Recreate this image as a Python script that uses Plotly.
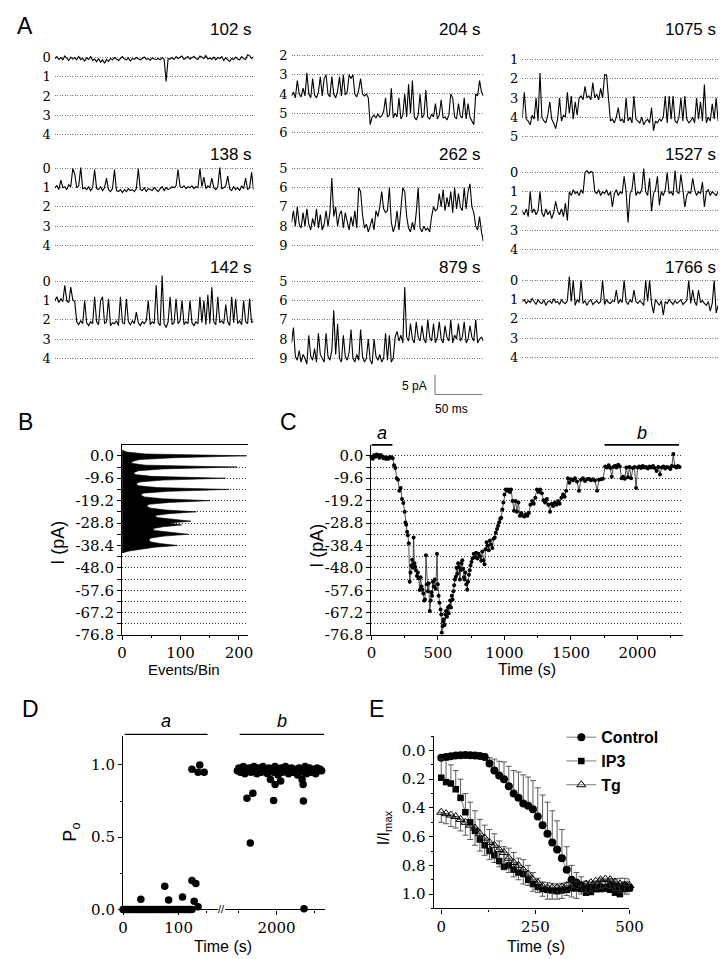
import plotly.graph_objects as go

W, H = 728, 959
SERIF = "DejaVu Serif, serif"
SANS = "Liberation Sans, Arial, sans-serif"

# ---------------- Panel A : single-channel sweeps (values in conductance-level units) ----------------
sweep_ms = 200
tr_102 = [0.05,-0.05,0.1,0.0,0.12,-0.08,0.05,0.15,-0.02,0.08,
          0.0,0.12,-0.05,0.1,0.05,0.18,0.02,0.1,-0.05,0.15,
          0.08,0.22,0.05,0.25,0.12,0.3,0.1,0.2,0.05,0.12,
          0.0,0.1,0.15,0.05,-0.05,0.08,0.12,0.02,0.18,0.05,
          0.1,0.0,0.08,0.12,0.05,-0.03,0.1,0.06,0.14,0.02,
          0.08,0.1,0.05,0.12,0.0,0.1,1.25,0.05,0.08,0.0,
          0.1,-0.05,0.05,0.0,-0.08,0.1,0.02,-0.05,0.08,0.0,
          -0.05,0.05,0.1,-0.08,0.0,0.05,-0.1,0.08,0.02,0.1,
          -0.02,0.12,0.0,0.05,-0.05,0.15,0.02,0.1,0.2,0.05,
          0.1,-0.02,0.08,0.12,-0.05,0.05,0.1,-0.15,-0.1,0.05,
          -0.05]
tr_138 = [1.0,0.9,1.1,0.6,1.0,0.95,1.1,0.85,0.95,0.0,
          0.3,1.0,0.9,-0.05,1.05,1.0,1.1,0.95,1.15,1.0,
          0.05,1.05,1.1,0.95,1.15,1.0,0.5,1.1,1.2,1.05,
          0.05,1.15,1.2,1.1,1.25,1.1,1.2,1.05,1.15,1.1,
          1.2,1.05,0.0,1.1,1.15,1.0,1.2,1.05,1.1,1.15,
          1.0,1.1,1.2,1.05,0.95,1.15,1.0,1.1,1.05,0.95,
          1.0,0.9,0.05,0.95,1.0,0.9,1.05,0.95,1.0,0.9,
          1.05,0.95,1.0,0.0,0.95,0.45,1.05,0.9,1.0,0.5,
          1.0,1.1,0.95,-0.05,1.05,1.0,0.9,0.4,1.05,1.15,
          0.95,1.1,1.0,1.15,0.9,1.05,0.5,1.1,1.0,0.2,
          1.1]
tr_142 = [1.0,0.8,1.1,0.9,1.05,0.2,1.0,1.1,0.3,0.95,
          1.05,2.1,2.25,2.05,2.2,1.0,2.15,2.3,2.1,2.2,
          0.8,2.1,2.25,1.0,0.8,2.2,2.1,0.9,2.3,2.15,
          2.2,2.05,2.3,0.8,2.15,2.2,0.9,2.1,2.25,2.05,
          2.2,1.6,2.15,2.3,2.1,2.2,2.05,1.0,2.25,2.1,
          2.2,0.2,2.15,2.3,-0.3,2.2,2.4,2.1,0.8,2.25,
          2.15,0.9,2.2,2.05,1.0,2.25,2.1,2.2,1.0,2.15,
          2.3,2.1,2.2,0.8,2.15,1.0,2.25,0.7,2.2,0.3,
          2.1,2.25,0.8,2.15,2.05,2.2,1.2,2.1,2.3,0.8,
          2.15,0.9,2.2,2.05,2.25,1.0,2.1,2.2,0.9,2.15,
          2.05]
tr_204 = [4.1,3.9,4.2,3.3,4.0,4.15,3.7,4.1,2.9,4.0,
          4.2,3.2,4.05,4.2,3.9,3.1,4.1,3.2,3.0,4.0,
          4.15,3.1,4.0,4.2,3.85,3.1,4.1,3.0,4.05,3.9,
          3.0,3.2,3.0,4.0,4.15,3.8,3.2,4.0,4.1,4.0,
          4.2,5.6,5.2,5.1,5.25,5.05,5.2,5.15,4.9,4.2,
          5.2,5.1,3.7,5.25,5.0,5.2,4.2,5.3,5.1,4.0,
          5.2,3.5,5.0,3.3,5.2,5.35,5.1,4.0,5.25,5.1,
          3.8,5.2,5.3,5.05,5.2,4.5,5.3,5.1,4.3,5.25,
          5.2,5.35,5.1,4.0,4.2,5.2,5.3,4.5,5.15,5.25,
          4.2,5.3,4.5,5.2,5.4,5.6,4.0,4.1,3.3,3.9,
          4.1]
tr_262 = [7.8,7.2,8.0,7.0,7.9,8.1,7.3,8.0,7.1,7.9,
          8.2,7.6,8.0,7.1,8.1,7.4,8.2,7.9,7.2,8.0,
          7.3,5.5,7.5,7.0,8.0,7.4,7.2,8.1,7.3,7.8,
          8.2,7.5,8.0,7.2,8.1,6.0,6.2,7.4,8.1,7.9,
          8.3,8.0,7.6,8.2,7.2,7.5,7.0,6.2,7.1,7.3,
          7.2,6.0,7.8,8.3,8.0,7.2,8.2,7.1,6.0,6.2,
          7.5,8.1,8.3,7.8,8.2,7.3,6.0,8.1,8.3,8.0,
          8.2,8.1,8.3,7.5,7.0,7.2,7.1,6.3,7.0,6.1,
          7.2,6.5,7.0,6.2,7.3,6.0,7.1,6.3,7.0,7.2,
          6.0,7.1,6.2,5.8,7.0,7.3,8.0,8.2,7.5,8.3,
          8.8]
tr_879 = [8.2,7.4,8.9,9.1,8.6,9.2,8.8,9.0,9.3,7.8,
          8.9,9.1,8.5,9.2,7.7,8.8,9.0,9.2,7.7,8.9,
          9.1,8.6,6.5,8.8,7.2,9.0,9.2,7.8,8.9,9.1,
          8.7,7.5,9.0,9.2,8.8,9.1,7.5,8.9,9.2,9.0,
          8.0,9.1,9.3,8.0,8.9,9.1,8.8,9.2,9.0,7.7,
          9.1,7.8,9.2,9.0,7.9,7.6,8.1,7.8,8.2,5.3,
          7.9,8.1,7.2,8.0,8.2,7.1,7.9,8.1,7.3,8.0,
          8.2,7.0,7.9,8.1,7.2,8.2,7.9,7.1,8.0,8.2,
          7.3,7.9,8.1,7.0,8.2,7.8,8.0,7.2,8.1,7.9,
          7.1,8.2,8.0,7.3,7.9,8.1,7.0,8.2,8.0,7.9,
          8.1]
tr_1075 = [4.0,2.7,4.1,4.2,4.4,3.9,4.1,3.0,4.2,1.7,
           4.0,4.2,4.3,3.9,3.2,4.1,4.3,4.6,4.1,3.0,
           4.2,3.9,4.0,2.7,3.8,2.9,4.1,3.2,3.9,3.0,
           2.9,3.1,2.4,3.0,2.9,3.1,2.2,3.0,2.8,3.1,
           2.5,3.0,1.8,1.8,3.0,4.2,4.1,4.3,4.0,3.5,
           4.2,4.1,4.3,3.0,4.2,4.0,4.3,2.9,4.1,4.2,
           4.3,4.0,4.4,4.2,4.1,4.3,3.5,4.7,4.2,4.3,
           4.1,4.2,4.0,2.9,4.3,2.9,4.1,2.9,4.2,4.3,
           4.0,3.0,4.2,2.9,4.1,4.3,4.2,4.0,4.3,3.0,
           4.1,3.2,4.2,2.3,4.3,4.0,4.2,3.3,4.1,3.0,
           4.2]
tr_1527 = [2.0,2.2,1.9,2.3,1.0,2.1,1.9,2.2,2.0,1.0,
           2.1,2.3,1.9,2.2,2.0,2.4,2.1,1.5,2.0,2.2,
           1.9,2.3,1.6,2.5,1.0,1.2,0.9,1.1,1.0,1.2,
           0.9,1.1,0.0,-0.1,0.05,-0.05,0.0,1.0,1.1,0.9,
           1.2,1.0,1.1,0.9,1.2,1.0,1.8,1.1,0.9,1.2,
           1.0,1.1,0.2,1.0,2.6,1.1,0.9,0.0,1.2,1.0,
           1.1,0.9,-0.2,1.0,1.2,0.3,2.0,1.1,0.9,0.2,
           1.7,1.0,1.2,0.9,0.0,1.1,1.0,1.2,-0.1,1.0,
           1.1,0.1,0.9,1.8,1.2,1.0,1.1,0.3,0.9,1.2,
           1.0,1.1,0.5,1.8,1.0,0.9,1.2,1.0,1.1,1.2,
           1.0]
tr_1766 = [1.1,1.0,1.2,1.05,1.15,0.95,1.1,1.25,1.0,1.15,
           1.2,1.0,1.3,1.1,1.05,1.2,0.95,1.15,1.1,1.25,
           1.0,1.15,1.2,1.05,-0.2,1.1,0.0,1.3,1.0,1.15,
           0.0,1.2,1.05,1.3,1.1,1.0,1.25,1.15,1.05,1.2,
           1.1,0.0,1.25,1.0,1.15,1.2,1.05,1.1,0.5,1.2,
           1.0,1.15,0.0,1.1,1.25,1.0,1.15,0.5,1.1,1.2,
           1.05,1.15,1.3,0.0,1.1,0.0,1.2,1.7,1.0,1.15,
           1.3,1.05,1.8,1.1,1.2,1.0,1.15,1.25,1.05,1.2,
           1.1,1.0,1.25,1.15,1.05,0.0,1.2,0.5,1.1,1.3,
           0.5,1.15,1.05,1.2,1.3,1.1,1.6,1.2,0.0,1.7,
           1.3]
sweep_titles = ["102 s", "138 s", "142 s", "204 s", "262 s", "879 s", "1075 s", "1527 s", "1766 s"]
sweep_top_level = [0, 0, 0, 2, 5, 5, 1, 0, 0]
scalebar_pA = 5
scalebar_ms = 50
pA_per_level = 4.8

# ---------------- Panel B : all-points histogram ----------------
hist_current = [2.4,1.6,0.8,0.0,-0.8,-1.6,-2.4,-3.2,-4.0,-4.8,
                -5.6,-6.4,-7.2,-8.0,-8.8,-9.6,-10.4,-11.2,-12.0,-12.8,
                -13.6,-14.4,-15.2,-16.0,-16.8,-17.6,-18.4,-19.2,-20.0,-20.8,
                -21.6,-22.4,-23.2,-24.0,-24.8,-25.6,-26.4,-27.2,-28.0,-28.8,
                -29.6,-30.4,-31.2,-32.0,-32.8,-33.6,-34.4,-35.2,-36.0,-36.8,
                -37.6,-38.4,-39.2,-40.0,-40.8,-41.6]
hist_counts = [0,8,40,213,90,30,18,16,40,197,
               70,28,20,22,50,177,70,30,24,28,
               60,183,80,36,32,38,70,150,80,46,
               42,48,75,127,80,56,60,90,118,80,
               102,70,52,56,80,113,72,50,46,48,
               65,95,55,30,12,0]
current_ticks = [0.0,-9.6,-19.2,-28.8,-38.4,-48.0,-57.6,-67.2,-76.8]
level_lines = [0.0,-4.8,-9.6,-14.4,-19.2,-24.0,-28.8,-33.6,-38.4,-43.2,-48.0,-52.8,-57.6,-62.4,-67.2,-72.0,-76.8]

# ---------------- Panel C : current vs time ----------------
c_time = [0,10,20,30,40,50,60,70,80,90,
          100,110,120,130,140,150,160,170,180,190,
          200,210,220,230,240,250,256,262,268,274,
          281,288,294,300,306,312,317,323,329,335,
          342,349,356,363,370,377,383,390,397,403,
          410,417,424,431,439,446,452,456,462,468,
          476,484,493,499,505,512,520,525,529,535,
          540,544,550,556,561,568,575,581,586,592,
          598,604,610,616,622,628,634,640,646,652,
          659,665,671,677,683,689,695,700,706,713,
          720,727,733,739,745,752,760,769,778,787,
          796,805,815,825,833,842,850,858,866,874,
          882,891,900,909,918,927,935,944,952,960,
          968,976,984,992,1000,1010,1020,1030,1040,1050,
          1061,1072,1083,1094,1105,1116,1127,1138,1149,1160,
          1172,1183,1195,1208,1220,1232,1244,1256,1268,1281,
          1293,1305,1318,1330,1342,1354,1366,1379,1391,1403,
          1415,1428,1440,1452,1464,1476,1488,1500,1515,1530,
          1545,1560,1575,1590,1605,1620,1635,1650,1665,1680,
          1696,1710,1725,1740,1757,1770,1783,1796,1806,1818,
          1830,1842,1855,1867,1880,1892,1904,1916,1928,1940,
          1952,1965,1977,1989,2001,2013,2026,2039,2052,2065,
          2078,2091,2104,2117,2130,2143,2156,2169,2182,2195,
          2208,2221,2234,2247,2258,2269,2280,2292,2304,2316]
c_current = [-0.5,-1.2,0.3,-0.4,0.6,0.2,-0.8,0.4,-0.2,-1.0,
             -0.6,-1.4,-0.8,-1.2,-0.5,-0.7,-1.0,-4.0,-5.2,-9.6,
             -10.2,-15.0,-13.8,-18.5,-20.2,-24.0,-28.6,-29.5,-32.5,-34.0,
             -37.5,-54.0,-50.0,-47.0,-44.5,-48.0,-35.0,-46.0,-47.5,-49.0,
             -51.5,-50.0,-52.5,-57.5,-52.0,-56.0,-57.4,-59.0,-62.0,-61.6,
             -42.6,-55.0,-58.0,-54.6,-66.5,-62.0,-58.5,-60.0,-54.0,-56.0,
             -53.0,-57.0,-42.0,-55.0,-60.0,-63.0,-65.8,-68.0,-75.7,-73.0,
             -71.0,-70.0,-72.5,-68.0,-66.5,-69.0,-65.0,-67.5,-64.4,-62.0,
             -65.0,-60.0,-61.6,-58.0,-55.5,-53.0,-51.8,-48.0,-50.5,-46.0,
             -47.6,-53.0,-49.0,-46.0,-44.7,-48.5,-52.0,-53.0,-50.0,-55.0,
             -57.4,-54.0,-51.0,-49.0,-47.0,-45.5,-44.0,-42.0,-43.5,-41.5,
             -44.0,-42.0,-43.0,-45.0,-41.0,-44.7,-46.5,-40.0,-37.0,-38.5,
             -40.5,-36.3,-38.0,-39.5,-35.5,-35.0,-33.0,-31.4,-30.0,-28.5,
             -27.0,-26.5,-23.0,-20.0,-16.6,-14.4,-15.0,-14.4,-15.5,-14.4,
             -19.4,-23.5,-19.4,-24.0,-20.0,-25.7,-24.5,-25.7,-26.0,-25.0,
             -25.7,-24.5,-21.0,-19.4,-20.5,-18.0,-14.4,-15.5,-14.4,-16.0,
             -19.0,-20.0,-18.5,-21.0,-24.0,-20.5,-21.5,-20.0,-21.0,-19.4,
             -20.5,-18.0,-16.6,-17.5,-15.0,-9.6,-11.5,-10.0,-10.5,-9.6,
             -11.0,-15.0,-10.2,-9.6,-10.8,-10.0,-9.8,-10.5,-10.0,-10.6,
             -15.0,-10.2,-10.0,-9.8,-4.6,-5.0,-4.0,-5.2,-9.0,-4.8,
             -4.2,-5.0,-3.8,-4.6,-9.6,-9.0,-9.8,-5.0,-9.2,-4.8,
             -9.6,-5.2,-4.8,-13.8,-5.0,-4.6,-5.2,-4.4,-5.0,-4.8,
             -5.4,-4.6,-5.0,-4.4,-5.2,-6.5,-4.8,-8.0,-5.0,-4.6,
             -5.4,-4.8,-5.0,-5.6,-4.4,0.8,-4.6,-5.0,-4.4,-4.8]
period_a = [0, 158]
period_b = [1752, 2312]

# ---------------- Panel D : open probability ----------------
d_a_time = [0,4,8,12,16,20,24,28,32,36,40,44,48,52,56,60,64,68,72,76,80,84,88,92,96,100,104,108,112,116,120,124,
            32,75,82,107,124,131,128,135,124,138,135,146]
d_a_po = [0,0,0,0,0,0,0,0,0,0,0,0,0,0,0,0,0,0,0,0,0,0,0,0,0,0,0,0,0,0,0,0,
          0.07,0.16,0.065,0.087,0.2,0.18,0.057,0.018,0.97,1.0,0.95,0.95]
d_b_time = [1740,1750,1760,1770,1780,1790,1800,1810,1820,1830,
            1840,1850,1860,1870,1880,1890,1900,1910,1920,1930,
            1940,1950,1960,1970,1980,1990,2000,2010,2020,2030,
            2040,2050,2060,2070,2080,2090,2100,2110,2120,2130,
            2140,2150,2160,2170,2180,2190,2200,2210,2220,2230,
            2240,2250,2260,2270,2280,2290,2300,
            1804,1843,1826,1981,1991,2028,2179,2177,2183,1960,2170]
d_b_po = [0.96,0.98,0.95,0.97,0.99,0.94,0.97,0.96,0.98,0.95,
          0.97,0.99,0.96,0.94,0.98,0.97,0.95,0.99,0.96,0.97,
          0.94,0.98,0.96,0.97,0.95,0.99,0.96,0.93,0.97,0.98,
          0.95,0.96,0.99,0.97,0.94,0.96,0.98,0.95,0.97,0.96,
          0.93,0.98,0.96,0.97,0.95,0.99,0.94,0.96,0.98,0.95,
          0.97,0.96,0.94,0.98,0.96,0.97,0.96,
          0.77,0.805,0.46,0.755,0.865,0.89,0.75,0.865,0.005,0.90,0.90]

# ---------------- Panel E : normalised current ----------------
e_time = [0,12.8,25.6,38.5,51.3,64.1,76.9,89.7,102.6,115.4,
          128.2,141.0,153.8,166.7,179.5,192.3,205.1,217.9,230.8,243.6,
          256.4,269.2,282.1,294.9,307.7,320.5,333.3,346.2,359.0,371.8,
          384.6,397.4,410.3,423.1,435.9,448.7,461.5,474.4,487.2,500.0]
e_control = [0.05,0.045,0.04,0.035,0.033,0.032,0.033,0.035,0.038,0.045,
             0.09,0.14,0.175,0.2,0.25,0.30,0.33,0.37,0.385,0.41,
             0.46,0.52,0.58,0.64,0.69,0.75,0.83,0.90,0.92,0.94,
             0.96,0.965,0.96,0.95,0.955,0.94,0.945,0.95,0.94,0.955]
e_control_err = [0.01,0.01,0.01,0.01,0.01,0.01,0.01,0.01,0.01,0.02,
                 0.04,0.08,0.1,0.12,0.14,0.16,0.18,0.2,0.2,0.2,
                 0.2,0.21,0.22,0.22,0.2,0.2,0.16,0.1,0.07,0.06,
                 0.05,0.05,0.05,0.06,0.05,0.05,0.05,0.06,0.05,0.06]
e_ip3 = [0.19,0.22,0.23,0.27,0.33,0.43,0.50,0.56,0.62,0.66,
         0.70,0.73,0.77,0.81,0.80,0.83,0.85,0.86,0.90,0.93,
         0.95,0.965,0.97,0.975,0.98,0.975,0.97,0.96,0.96,0.965,
         0.99,0.985,0.965,0.965,0.96,0.97,0.99,1.0,0.965,0.96]
e_ip3_err = [0.13,0.15,0.13,0.13,0.13,0.13,0.14,0.14,0.14,0.14,
             0.15,0.15,0.14,0.14,0.12,0.12,0.1,0.1,0.1,0.08,
             0.06,0.05,0.05,0.05,0.05,0.05,0.05,0.05,0.05,0.05,
             0.05,0.05,0.05,0.05,0.05,0.05,0.05,0.05,0.05,0.05]
e_tg = [0.43,0.44,0.45,0.46,0.48,0.50,0.52,0.54,0.58,0.61,
        0.64,0.66,0.69,0.71,0.75,0.78,0.80,0.83,0.86,0.90,
        0.92,0.945,0.955,0.955,0.955,0.95,0.94,0.95,0.96,0.94,
        0.93,0.92,0.91,0.90,0.895,0.90,0.915,0.93,0.94,0.94]
e_tg_err = [0.07,0.07,0.08,0.08,0.08,0.09,0.1,0.12,0.12,0.12,
            0.12,0.12,0.12,0.12,0.1,0.1,0.1,0.1,0.08,0.08,
            0.07,0.07,0.08,0.08,0.08,0.08,0.07,0.07,0.07,0.06,
            0.06,0.06,0.06,0.06,0.06,0.06,0.06,0.06,0.06,0.06]

# ============================ figure building ============================
def fx(px):
    return px / W

def fy(py):
    return 1 - py / H

fig = go.Figure()
layout = {}
annotations = []
shapes = []
counter = [0]

def new_axes(xpx, ypx, xkw, ykw):
    counter[0] += 1
    n = counter[0]
    sfx = "" if n == 1 else str(n)
    layout["xaxis" + sfx] = dict(domain=[fx(xpx[0]), fx(xpx[1])], anchor="y" + sfx, **xkw)
    layout["yaxis" + sfx] = dict(domain=[fy(ypx[1]), fy(ypx[0])], anchor="x" + sfx, **ykw)
    return "x" + sfx, "y" + sfx

def text(s, x, y, size=14, family=SANS, xanchor="center", yanchor="middle", angle=0, color="black"):
    annotations.append(dict(text=s, x=fx(x), y=fy(y), xref="paper", yref="paper", showarrow=False,
                            xanchor=xanchor, yanchor=yanchor, textangle=angle,
                            font=dict(family=family, size=size, color=color)))

TICKFONT = dict(family=SERIF, size=15, color="black")

# ---------- Panel A ----------
col_px = [(43, 247), (286, 483), (523, 724)]
top_px = [[50, 162, 276], [48, 162, 276], [52, 166, 275]]
title_px = [22, 148, 262]
sp = 19.4
traces_A = [tr_102, tr_138, tr_142, tr_204, tr_262, tr_879, tr_1075, tr_1527, tr_1766]
for k, vals in enumerate(traces_A):
    c, r = divmod(k, 3)
    lv0 = sweep_top_level[k]
    tp = top_px[c][r]
    xr, yr = new_axes(
        col_px[c], (tp - 0.8 * sp, tp + 4.8 * sp),
        dict(range=[0, sweep_ms], visible=False, fixedrange=True),
        dict(range=[lv0 + 4.8, lv0 - 0.8], tickmode="array",
             tickvals=[lv0 + i for i in range(5)], ticktext=[str(lv0 + i) for i in range(5)],
             showgrid=True, gridcolor="#7a7a7a", gridwidth=1, griddash="1px,1.5px",
             zeroline=False, showline=False, ticks="", ticklabelstandoff=3,
             tickfont=dict(family=SERIF, size=13, color="black")))
    n = len(vals)
    t = [sweep_ms * i / (n - 1) for i in range(n)]
    fig.add_trace(go.Scatter(x=t, y=vals, xaxis=xr, yaxis=yr, mode="lines",
                             line=dict(color="black", width=1.1), showlegend=False, hoverinfo="skip"))
    text(sweep_titles[k], col_px[c][1], title_px[r], size=17, xanchor="right")

# scale bar
xr, yr = new_axes((433, 433 + scalebar_ms * 0.98), (370, 370 + scalebar_pA / pA_per_level * sp),
                  dict(range=[0, scalebar_ms], visible=False), dict(range=[0, scalebar_pA], visible=False))
fig.add_trace(go.Scatter(x=[0, 0, scalebar_ms], y=[scalebar_pA, 0, 0], xaxis=xr, yaxis=yr, mode="lines",
                         line=dict(color="black", width=1.2), showlegend=False, hoverinfo="skip"))
text("5 pA", 412, 382, size=12)
text("50 ms", 450, 405, size=12)

# ---------- Panel B ----------
cur_ticktext = [f"{v:.1f}" if v in current_ticks else " " for v in level_lines]
yB = dict(range=[-76.8, 4.7], tickmode="array", tickvals=level_lines, ticktext=cur_ticktext,
          showgrid=True, gridcolor="#333", gridwidth=1, griddash="1px,2px", zeroline=False,
          showline=True, linecolor="black", linewidth=1.2, ticks="outside", ticklen=4,
          tickcolor="black", tickfont=TICKFONT)
xr, yr = new_axes((112, 241), (441, 633),
                  dict(range=[0, 215], tickmode="linear", tick0=0, dtick=100, showgrid=False, zeroline=False,
                       showline=True, mirror=True, linecolor="black", linewidth=1.2, ticks="outside",
                       ticklen=4, tickcolor="black", tickfont=TICKFONT,
                       minor=dict(dtick=50, ticks="outside", ticklen=2, tickcolor="black")),
                  yB)
fig.add_trace(go.Scatter(x=hist_counts, y=hist_current, xaxis=xr, yaxis=yr, mode="lines", fill="tozerox",
                         fillcolor="black", line=dict(color="black", width=0.6), showlegend=False, hoverinfo="skip"))
text("I (pA)", 46, 540, size=18, angle=-90)
text("Events/Bin", 176, 668, size=15)
text("B", 13, 418, size=23)

# ---------- Panel C ----------
xr, yr = new_axes((368, 688), (441, 633),
                  dict(range=[0, 2342], tickmode="linear", tick0=0, dtick=500, showgrid=False, zeroline=False,
                       showline=True, linecolor="black", linewidth=1.2, ticks="outside", ticklen=4,
                       tickcolor="black", tickfont=TICKFONT,
                       minor=dict(dtick=250, ticks="outside", ticklen=2, tickcolor="black")),
                  dict(yB))
fig.add_trace(go.Scatter(x=c_time, y=c_current, xaxis=xr, yaxis=yr, mode="lines+markers",
                         line=dict(color="#222", width=0.8), marker=dict(size=4, color="black"),
                         showlegend=False, hoverinfo="skip", cliponaxis=False))
for rng, lab in ((period_a, "a"), (period_b, "b")):
    shapes.append(dict(type="line", xref=xr, yref=yr + " domain", x0=rng[0], x1=rng[1], y0=1.0, y1=1.0,
                       line=dict(color="black", width=1.6)))
    annotations.append(dict(text="<i>" + lab + "</i>", x=(rng[0] + rng[1]) / 2, y=1.0, xref=xr, yref=yr + " domain",
                            yanchor="bottom", showarrow=False, yshift=0,
                            font=dict(family=SANS, size=18, color="black")))
text("I (pA)", 312, 543, size=18, angle=-90)
text("Time (s)", 528, 668, size=16)
text("C", 283, 418, size=23)

# ---------- Panel D ----------
axD = dict(showgrid=False, zeroline=False, showline=True, linecolor="black", linewidth=1.2, ticks="outside",
           ticklen=4, tickcolor="black", tickfont=TICKFONT)
xr, yr = new_axes((113, 210), (735, 910),
                  dict(range=[0, 170], tickmode="linear", tick0=0, dtick=100,
                       minor=dict(dtick=50, ticks="outside", ticklen=2, tickcolor="black"), **axD),
                  dict(range=[0, 1.2], tickmode="linear", tick0=0, dtick=0.5, tickformat=".1f",
                       minor=dict(dtick=0.25, ticks="outside", ticklen=2, tickcolor="black"), **axD))
fig.add_trace(go.Scatter(x=d_a_time, y=d_a_po, xaxis=xr, yaxis=yr, mode="markers",
                         marker=dict(size=7.5, color="black"), cliponaxis=False, showlegend=False, hoverinfo="skip"))
shapes.append(dict(type="line", xref=xr, yref=yr + " domain", x0=3, x1=152, y0=1.01, y1=1.01,
                   line=dict(color="black", width=1.4)))
annotations.append(dict(text="<i>a</i>", x=(3 + 152) / 2, y=1.02, xref=xr, yref=yr + " domain", yanchor="bottom",
                        showarrow=False, font=dict(family=SANS, size=18, color="black")))
xr2, yr2 = new_axes((218, 320), (735, 910),
                    dict(range=[1660, 2320], tickmode="array", tickvals=[2000],
                         minor=dict(tickvals=[1750, 2250], ticks="outside", ticklen=2, tickcolor="black"), **axD),
                    dict(range=[0, 1.2], visible=False))
fig.add_trace(go.Scatter(x=d_b_time, y=d_b_po, xaxis=xr2, yaxis=yr2, mode="markers",
                         marker=dict(size=7.5, color="black"), cliponaxis=False, showlegend=False, hoverinfo="skip"))
shapes.append(dict(type="line", xref=xr2, yref=yr2 + " domain", x0=1755, x1=2316, y0=1.01, y1=1.01,
                   line=dict(color="black", width=1.4)))
annotations.append(dict(text="<i>b</i>", x=(1755 + 2316) / 2, y=1.02, xref=xr2, yref=yr2 + " domain", yanchor="bottom",
                        showarrow=False, font=dict(family=SANS, size=18, color="black")))
text("//", 214, 910, size=11, family=SANS)
text("P<sub>o</sub>", 60, 832, size=18, angle=-90)
text("Time (s)", 216, 947, size=16)
text("D", 18, 708, size=23)

# ---------- Panel E ----------
xr, yr = new_axes((432, 633), (735, 909),
                  dict(range=[-20, 500], tickmode="linear", tick0=0, dtick=250,
                       minor=dict(dtick=125, ticks="outside", ticklen=2, tickcolor="black"), **axD),
                  dict(range=[1.1, -0.1], tickmode="linear", tick0=0, dtick=0.2, tickformat=".1f",
                       minor=dict(dtick=0.1, ticks="outside", ticklen=2, tickcolor="black"), **axD))
err_style = dict(type="data", symmetric=False, color="#333", thickness=0.8, width=3)
fig.add_trace(go.Scatter(x=e_time, y=e_control, xaxis=xr, yaxis=yr, mode="lines+markers", name="<b>Control</b>",
                         line=dict(color="#555", width=0.8), marker=dict(symbol="circle", size=8, color="black"),
                         error_y=dict(array=[0] * len(e_control), arrayminus=e_control_err, **err_style),
                         cliponaxis=False, hoverinfo="skip"))
fig.add_trace(go.Scatter(x=e_time, y=e_ip3, xaxis=xr, yaxis=yr, mode="lines+markers", name="<b>IP3</b>",
                         line=dict(color="#555", width=0.8), marker=dict(symbol="square", size=6.5, color="black"),
                         error_y=dict(array=[0] * len(e_ip3), arrayminus=e_ip3_err, **err_style),
                         cliponaxis=False, hoverinfo="skip"))
fig.add_trace(go.Scatter(x=e_time, y=e_tg, xaxis=xr, yaxis=yr, mode="lines+markers", name="<b>Tg</b>",
                         line=dict(color="#555", width=0.8),
                         marker=dict(symbol="triangle-up-open", size=8, color="black", line=dict(width=1)),
                         error_y=dict(array=e_tg_err, arrayminus=[0] * len(e_tg), **err_style),
                         cliponaxis=False, hoverinfo="skip"))
text("I/I<sub>max</sub>", 381, 828, size=16, angle=-90)
text("Time (s)", 537, 947, size=16)
text("E", 373, 708, size=23)

text("A", 12, 18, size=23)

layout.update(dict(
    width=W, height=H, margin=dict(l=0, r=0, t=0, b=0),
    paper_bgcolor="white", plot_bgcolor="rgba(0,0,0,0)",
    showlegend=True,
    legend=dict(x=fx(563), y=fy(719), xanchor="left", yanchor="top", bgcolor="rgba(0,0,0,0)",
                font=dict(family=SANS, size=16, color="black"), tracegroupgap=0, itemwidth=30),
    annotations=annotations, shapes=shapes,
))
fig.update_layout(**layout)
fig.write_html("out.html")
